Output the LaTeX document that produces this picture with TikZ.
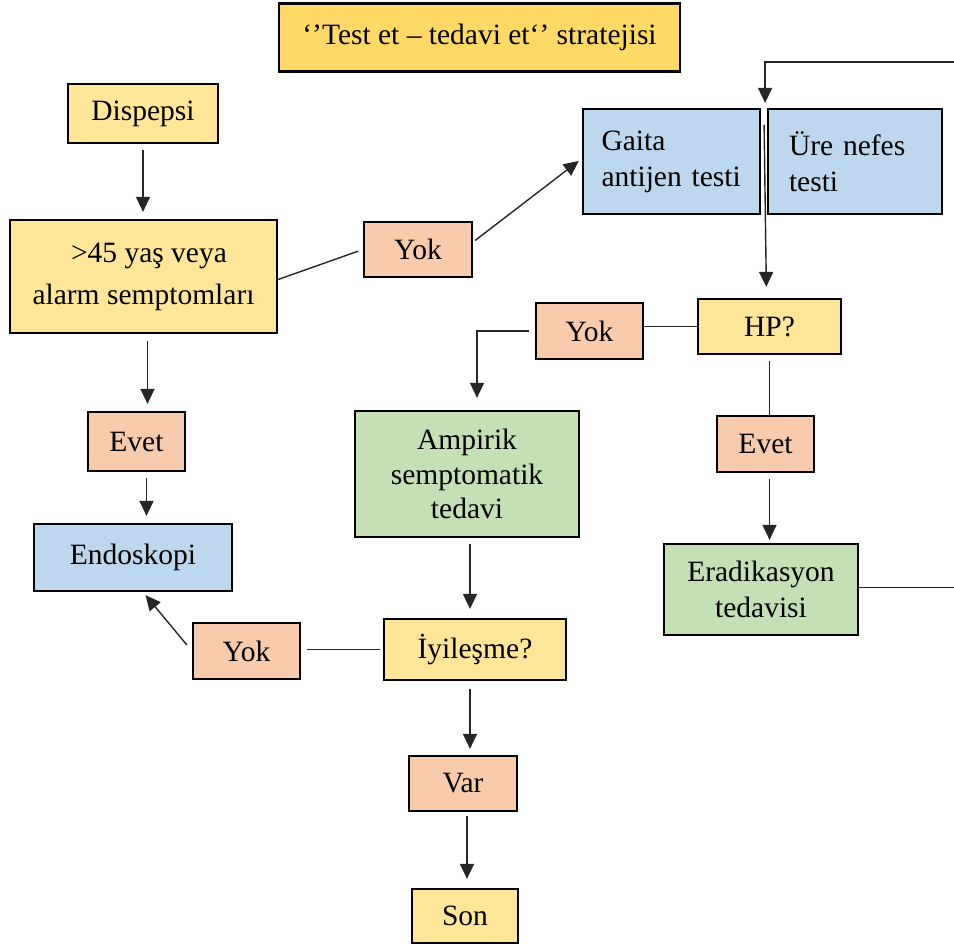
\documentclass[tikz,border=0pt]{standalone}
\usepackage{fontspec}
\setmainfont{Liberation Serif}
\usetikzlibrary{arrows.meta}

\definecolor{titlefill}{HTML}{FFD966}
\definecolor{yelfill}{HTML}{FFE699}
\definecolor{salmonfill}{HTML}{F8CBAD}
\definecolor{bluefill}{HTML}{BDD7EE}
\definecolor{greenfill}{HTML}{C5E0B4}

\tikzset{
  box/.style={draw=black, line width=2.2pt, inner sep=0pt, align=center,
    font=\fontsize{29.5}{36}\selectfont},
  yelbox/.style={box, fill=yelfill},
  titlebox/.style={box, fill=titlefill},
  ansbox/.style={box, fill=salmonfill},
  testbox/.style={box, fill=bluefill},
  treatbox/.style={box, fill=greenfill},
  conn/.style={line width=1.4pt, draw=black!85},
  arr/.style={conn, -{Triangle[length=15pt,width=14pt]}},
}

\begin{document}
\begin{tikzpicture}[x=1pt,y=-1pt]
\useasboundingbox (0,0) rectangle (954,947);

% boxes
\node[titlebox, minimum width=401pt, minimum height=68pt] (title) at (479.5,37.5)
  {`'Test et -- tedavi et`' stratejisi};
\node[yelbox, minimum width=150pt, minimum height=59pt] (disp) at (143,113.5) {Dispepsi};
\node[yelbox, minimum width=267pt, minimum height=113pt,
      font=\fontsize{29.5}{42}\selectfont] (age) at (143.5,276.5)
  {\hspace*{11pt}>45 yaş veya\\alarm semptomları};
\node[ansbox, minimum width=108pt, minimum height=55pt] (yok1) at (418,249.5) {Yok};
\node[testbox, minimum width=177pt, minimum height=105pt, text width=140pt, align=left]
  (gaita) at (671.5,161.5) {Gaita\\antijen testi};
\node[testbox, minimum width=174pt, minimum height=105pt, text width=132pt, align=left]
  (ure) at (855,161.5) {Üre nefes\\testi};
\node[yelbox, minimum width=143pt, minimum height=55pt] (hp) at (769.5,326.5) {HP?};
\node[ansbox, minimum width=107pt, minimum height=56pt] (yok2) at (589.5,331) {Yok};
\node[ansbox, minimum width=97pt, minimum height=56pt] (evet2) at (765.5,444) {Evet};
\node[treatbox, minimum width=194pt, minimum height=91pt] (erad) at (761,589.5)
  {Eradikasyon\\tedavisi};
\node[treatbox, minimum width=224pt, minimum height=126pt,
      font=\fontsize{29.5}{34.5}\selectfont] (amp) at (467,474)
  {Ampirik\\semptomatik\\tedavi};
\node[yelbox, minimum width=182pt, minimum height=61pt] (iyi) at (475,649.5) {İyileşme?};
\node[ansbox, minimum width=107pt, minimum height=56pt] (yok3) at (246.5,651) {Yok};
\node[testbox, minimum width=198pt, minimum height=67pt] (endo) at (133,557.5) {Endoskopi};
\node[ansbox, minimum width=97pt, minimum height=59pt] (evet1) at (136.5,441.5) {Evet};
\node[ansbox, minimum width=108pt, minimum height=55pt] (var) at (463,783.5) {Var};
\node[yelbox, minimum width=106pt, minimum height=54pt] (son) at (465,916) {Son};

% free ends of the loop back from the eradication box
\coordinate (loopin) at (954,62);
\coordinate (loopout) at (954,587.5);

% connectors (shifts are in canvas units: positive yshift moves up)
\draw[arr, shorten <=6pt, shorten >=7pt] (disp.south) -- (disp.south |- age.north);
\draw[conn, shorten >=5pt] ([yshift=-3pt]age.east) -- (yok1.west);
\draw[arr, shorten >=4pt] ([shift={(2pt,9pt)}]yok1.east) -- ([yshift=3pt]gaita.west);
\draw[arr, shorten >=5pt] (loopin) -| ([xshift=4pt]gaita.north east);
\draw[arr, shorten >=11pt] ([shift={(3pt,-17pt)}]gaita.north east) -- ([xshift=-3pt]hp.north);
\draw[conn] (yok2.east |- hp.west) -- (hp.west);
\draw[arr, shorten <=6pt, shorten >=12pt] (yok2.west) -| ([xshift=10pt]amp.north);
\draw[conn, shorten <=6pt] (hp.south) -- (hp.south |- evet2.north);
\draw[arr, shorten <=6pt, shorten >=3pt] ([xshift=4pt]evet2.south) -- ([xshift=4pt]evet2.south |- erad.north);
\draw[conn] (erad.east |- loopout) -- (loopout);
\draw[arr, shorten <=7pt, shorten >=7pt] ([xshift=4pt]age.south) -- ([xshift=4pt]age.south |- evet1.north);
\draw[arr, shorten <=6pt, shorten >=7pt] ([xshift=10pt]evet1.south) -- ([xshift=10pt]evet1.south |- endo.north);
\draw[arr, shorten <=6pt, shorten >=9pt] ([xshift=3pt]amp.south) -- ([xshift=3pt]amp.south |- iyi.north);
\draw[conn, shorten <=3pt, shorten >=6pt] (iyi.west) -- (iyi.west -| yok3.east);
\draw[arr, shorten <=8pt, shorten >=4pt] (yok3.west) -- ([xshift=10pt]endo.south);
\draw[arr, shorten <=8pt, shorten >=6pt] ([xshift=-5pt]iyi.south) -- ([xshift=-5pt]iyi.south |- var.north);
\draw[arr, shorten <=4pt, shorten >=9pt] ([xshift=4pt]var.south) -- ([xshift=4pt]var.south |- son.north);
\end{tikzpicture}
\end{document}
